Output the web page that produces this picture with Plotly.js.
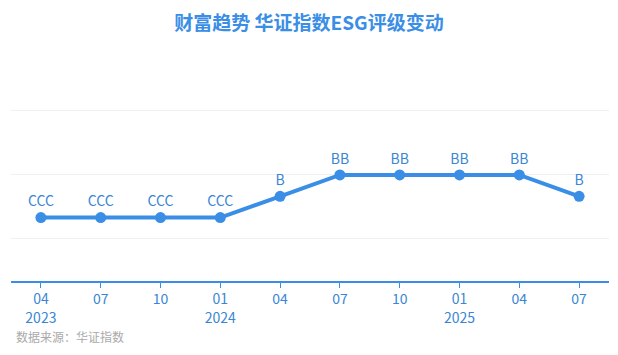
<!DOCTYPE html>
<html><head><meta charset="utf-8">
<script src="https://cdn.plot.ly/plotly-3.0.1.min.js"></script>
<style>body{margin:0;background:#fff}#c{width:618px;height:355px}</style>
</head><body><div id="c"></div>
<script>
const periods = ['2023-04','2023-07','2023-10','2024-01','2024-04','2024-07','2024-10','2025-01','2025-04','2025-07'];
const tickLabels = ['04<br>2023','07','10','01<br>2024','04','07','10','01<br>2025','04','07'];
const ratings = ['CCC','CCC','CCC','CCC','B','BB','BB','BB','BB','B'];
const ratingScale = ['CCC','B','BB','BBB','A','AA','AAA'];
const levels = ratings.map(r => ratingScale.indexOf(r) + 1);

const blue = '#3a8ee6';
const font = '"Microsoft YaHei","Noto Sans CJK SC","Noto Sans",sans-serif';

Plotly.newPlot('c', [{
  x: periods, y: levels, text: ratings,
  type: 'scatter', mode: 'lines+markers+text',
  textposition: 'top center',
  textfont: {color: '#3a86d4', size: 14, family: font},
  line: {color: blue, width: 4},
  marker: {color: blue, size: 11},
  cliponaxis: false, hoverinfo: 'skip'
}], {
  width: 618, height: 355,
  margin: {l: 11, r: 9, t: 90, b: 74},
  paper_bgcolor: '#fff', plot_bgcolor: '#fff',
  showlegend: false,
  title: {text: '<b>财富趋势 华证指数ESG评级变动</b>', x: 0.5, xanchor: 'center', y: 0.935, yanchor: 'middle',
          font: {size: 19, color: '#3a8ee6', family: font}},
  xaxis: {type: 'category', tickvals: periods, ticktext: tickLabels, range: [-0.5, 9.5],
          showgrid: false, showline: true, linecolor: '#3a8ee6', linewidth: 1.5,
          ticks: 'outside', ticklen: 5, tickcolor: '#3a8ee6', tickwidth: 1,
          tickfont: {size: 14, color: '#3a86d4', family: font}, fixedrange: true},
  yaxis: {range: [-1.97, 6.98], tickvals: [0, 3, 6], showticklabels: false,
          showgrid: true, gridcolor: '#f0f0f0', gridwidth: 1, zeroline: false,
          showline: false, fixedrange: true},
  annotations: [{text: '数据来源：华证指数', xref: 'paper', yref: 'paper', x: -0.0, y: -0.292,
                 xanchor: 'left', yanchor: 'middle', showarrow: false, xshift: 3,
                 font: {size: 12, color: '#aaaaaa', family: font}}]
}, {displayModeBar: false, staticPlot: true});
</script></body></html>
